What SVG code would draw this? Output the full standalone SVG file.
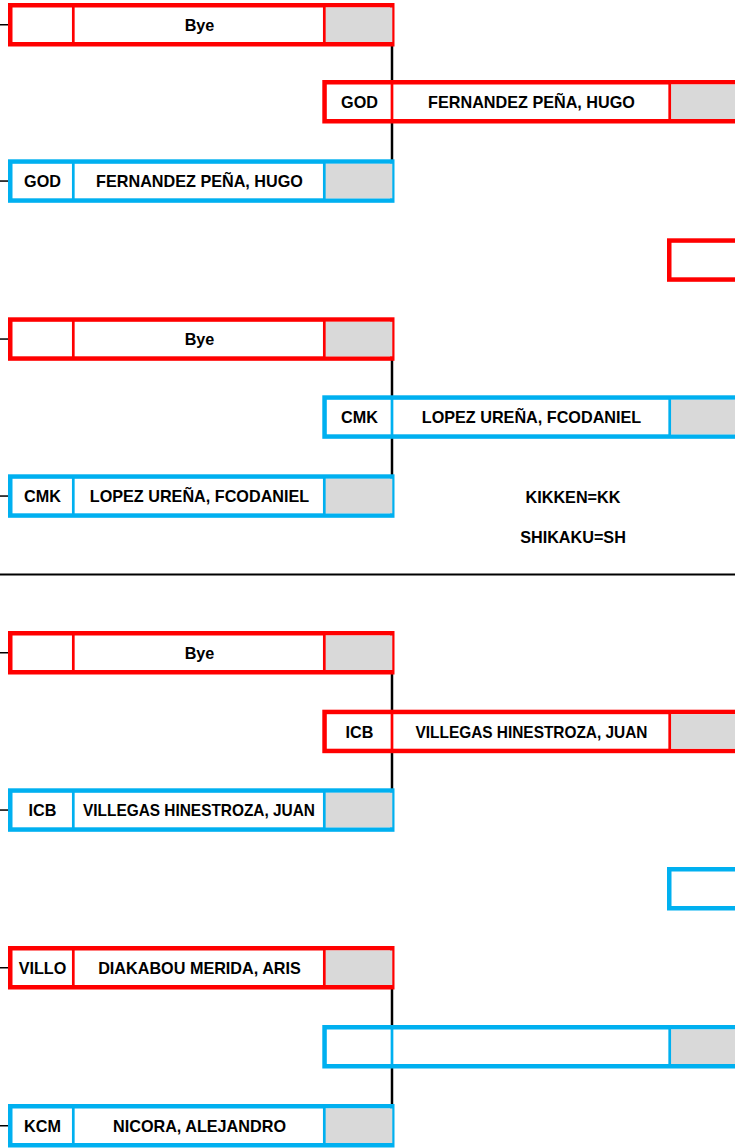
<svg xmlns="http://www.w3.org/2000/svg" width="735" height="1148" viewBox="0 0 735 1148">
<style>
.box{fill:#fff;stroke-width:4.5}
.red{stroke:#FF0000}
.blue{stroke:#00B0F0}
.dv{stroke-width:2.7}
.gray{fill:#D9D9D9}
.t{font-family:"Liberation Sans",Arial,sans-serif;font-weight:bold;font-size:16.2px;text-anchor:middle;fill:#000}
.ln{stroke:#000;fill:none}
</style>
<rect width="735" height="1148" fill="#fff"/>
<g id="connectors" class="ln">
  <line x1="0" y1="24.75" x2="9" y2="24.75" stroke-width="1.5"/>
  <line x1="0" y1="181.05" x2="9" y2="181.05" stroke-width="1.5"/>
  <line x1="392" y1="45" x2="392" y2="160" stroke-width="2.5"/>
  <line x1="0" y1="339.05" x2="9" y2="339.05" stroke-width="1.5"/>
  <line x1="0" y1="496.05" x2="9" y2="496.05" stroke-width="1.5"/>
  <line x1="392" y1="359" x2="392" y2="475" stroke-width="2.5"/>
  <line x1="0" y1="652.75" x2="9" y2="652.75" stroke-width="1.5"/>
  <line x1="0" y1="810.05" x2="9" y2="810.05" stroke-width="1.5"/>
  <line x1="392" y1="673" x2="392" y2="789" stroke-width="2.5"/>
  <line x1="0" y1="967.75" x2="9" y2="967.75" stroke-width="1.5"/>
  <line x1="0" y1="1125.75" x2="9" y2="1125.75" stroke-width="1.5"/>
  <line x1="392" y1="988" x2="392" y2="1105" stroke-width="2.5"/>
  <line x1="0" y1="574.5" x2="735" y2="574.5" stroke-width="1.8"/>
</g>
<g id="g1-top" transform="translate(0,3)">
  <rect class="box red" x="10.25" y="2.25" width="382" height="39"/>
  <rect class="gray" x="324.3" y="4.5" width="68" height="34.5"/>
  <line class="red dv" x1="73.3" y1="2.25" x2="73.3" y2="41.25"/>
  <line class="red dv" x1="324.3" y1="2.25" x2="324.3" y2="41.25"/>
  <text class="t" x="199.5" y="27.5">Bye</text>
</g>
<g id="g1-r2" transform="translate(0,80)">
  <rect class="box red" x="324.55" y="2.25" width="450" height="39"/>
  <rect class="gray" x="669.7" y="4.5" width="90" height="34.5"/>
  <line class="red dv" x1="392" y1="2.25" x2="392" y2="41.25"/>
  <line class="red dv" x1="669.7" y1="2.25" x2="669.7" y2="41.25"/>
  <text class="t" x="359.5" y="28">GOD</text>
  <text class="t" x="531.5" y="28">FERNANDEZ PEÑA, HUGO</text>
</g>
<g id="g1-bot" transform="translate(0,159.3)">
  <rect class="box blue" x="10.25" y="2.25" width="382" height="39"/>
  <rect class="gray" x="324.3" y="4.5" width="68" height="34.5"/>
  <line class="blue dv" x1="73.3" y1="2.25" x2="73.3" y2="41.25"/>
  <line class="blue dv" x1="324.3" y1="2.25" x2="324.3" y2="41.25"/>
  <text class="t" x="42.5" y="28">GOD</text>
  <text class="t" x="199.5" y="28">FERNANDEZ PEÑA, HUGO</text>
</g>
<g id="r3-red" transform="translate(0,238.3)">
  <rect class="box red" x="669.25" y="2.25" width="100" height="39"/>
</g>
<g id="g2-top" transform="translate(0,317.3)">
  <rect class="box red" x="10.25" y="2.25" width="382" height="39"/>
  <rect class="gray" x="324.3" y="4.5" width="68" height="34.5"/>
  <line class="red dv" x1="73.3" y1="2.25" x2="73.3" y2="41.25"/>
  <line class="red dv" x1="324.3" y1="2.25" x2="324.3" y2="41.25"/>
  <text class="t" x="199.5" y="27.5">Bye</text>
</g>
<g id="g2-r2" transform="translate(0,395.3)">
  <rect class="box blue" x="324.55" y="2.25" width="450" height="39"/>
  <rect class="gray" x="669.7" y="4.5" width="90" height="34.5"/>
  <line class="blue dv" x1="392" y1="2.25" x2="392" y2="41.25"/>
  <line class="blue dv" x1="669.7" y1="2.25" x2="669.7" y2="41.25"/>
  <text class="t" x="359.5" y="28">CMK</text>
  <text class="t" x="531.5" y="28">LOPEZ UREÑA, FCODANIEL</text>
</g>
<g id="g2-bot" transform="translate(0,474.3)">
  <rect class="box blue" x="10.25" y="2.25" width="382" height="39"/>
  <rect class="gray" x="324.3" y="4.5" width="68" height="34.5"/>
  <line class="blue dv" x1="73.3" y1="2.25" x2="73.3" y2="41.25"/>
  <line class="blue dv" x1="324.3" y1="2.25" x2="324.3" y2="41.25"/>
  <text class="t" x="42.5" y="28">CMK</text>
  <text class="t" x="199.5" y="28">LOPEZ UREÑA, FCODANIEL</text>
</g>
<g id="legend">
  <text class="t" x="573" y="503">KIKKEN=KK</text>
  <text class="t" x="573" y="542.5">SHIKAKU=SH</text>
</g>
<g id="g3-top" transform="translate(0,631)">
  <rect class="box red" x="10.25" y="2.25" width="382" height="39"/>
  <rect class="gray" x="324.3" y="4.5" width="68" height="34.5"/>
  <line class="red dv" x1="73.3" y1="2.25" x2="73.3" y2="41.25"/>
  <line class="red dv" x1="324.3" y1="2.25" x2="324.3" y2="41.25"/>
  <text class="t" x="199.5" y="27.5">Bye</text>
</g>
<g id="g3-r2" transform="translate(0,709.7)">
  <rect class="box red" x="324.55" y="2.25" width="450" height="39"/>
  <rect class="gray" x="669.7" y="4.5" width="90" height="34.5"/>
  <line class="red dv" x1="392" y1="2.25" x2="392" y2="41.25"/>
  <line class="red dv" x1="669.7" y1="2.25" x2="669.7" y2="41.25"/>
  <text class="t" x="359.5" y="28">ICB</text>
  <text class="t" x="531.5" y="28" textLength="232" lengthAdjust="spacingAndGlyphs">VILLEGAS HINESTROZA, JUAN</text>
</g>
<g id="g3-bot" transform="translate(0,788.3)">
  <rect class="box blue" x="10.25" y="2.25" width="382" height="39"/>
  <rect class="gray" x="324.3" y="4.5" width="68" height="34.5"/>
  <line class="blue dv" x1="73.3" y1="2.25" x2="73.3" y2="41.25"/>
  <line class="blue dv" x1="324.3" y1="2.25" x2="324.3" y2="41.25"/>
  <text class="t" x="42.5" y="28">ICB</text>
  <text class="t" x="199" y="28" textLength="232" lengthAdjust="spacingAndGlyphs">VILLEGAS HINESTROZA, JUAN</text>
</g>
<g id="r3-blue" transform="translate(0,867)">
  <rect class="box blue" x="669.25" y="2.25" width="100" height="39"/>
</g>
<g id="g4-top" transform="translate(0,946)">
  <rect class="box red" x="10.25" y="2.25" width="382" height="39"/>
  <rect class="gray" x="324.3" y="4.5" width="68" height="34.5"/>
  <line class="red dv" x1="73.3" y1="2.25" x2="73.3" y2="41.25"/>
  <line class="red dv" x1="324.3" y1="2.25" x2="324.3" y2="41.25"/>
  <text class="t" x="42.5" y="28">VILLO</text>
  <text class="t" x="199.5" y="28">DIAKABOU MERIDA, ARIS</text>
</g>
<g id="g4-r2" transform="translate(0,1025)">
  <rect class="box blue" x="324.55" y="2.25" width="450" height="39"/>
  <rect class="gray" x="669.7" y="4.5" width="90" height="34.5"/>
  <line class="blue dv" x1="392" y1="2.25" x2="392" y2="41.25"/>
  <line class="blue dv" x1="669.7" y1="2.25" x2="669.7" y2="41.25"/>
</g>
<g id="g4-bot" transform="translate(0,1104)">
  <rect class="box blue" x="10.25" y="2.25" width="382" height="39"/>
  <rect class="gray" x="324.3" y="4.5" width="68" height="34.5"/>
  <line class="blue dv" x1="73.3" y1="2.25" x2="73.3" y2="41.25"/>
  <line class="blue dv" x1="324.3" y1="2.25" x2="324.3" y2="41.25"/>
  <text class="t" x="42.5" y="28">KCM</text>
  <text class="t" x="199.5" y="28">NICORA, ALEJANDRO</text>
</g>
</svg>
